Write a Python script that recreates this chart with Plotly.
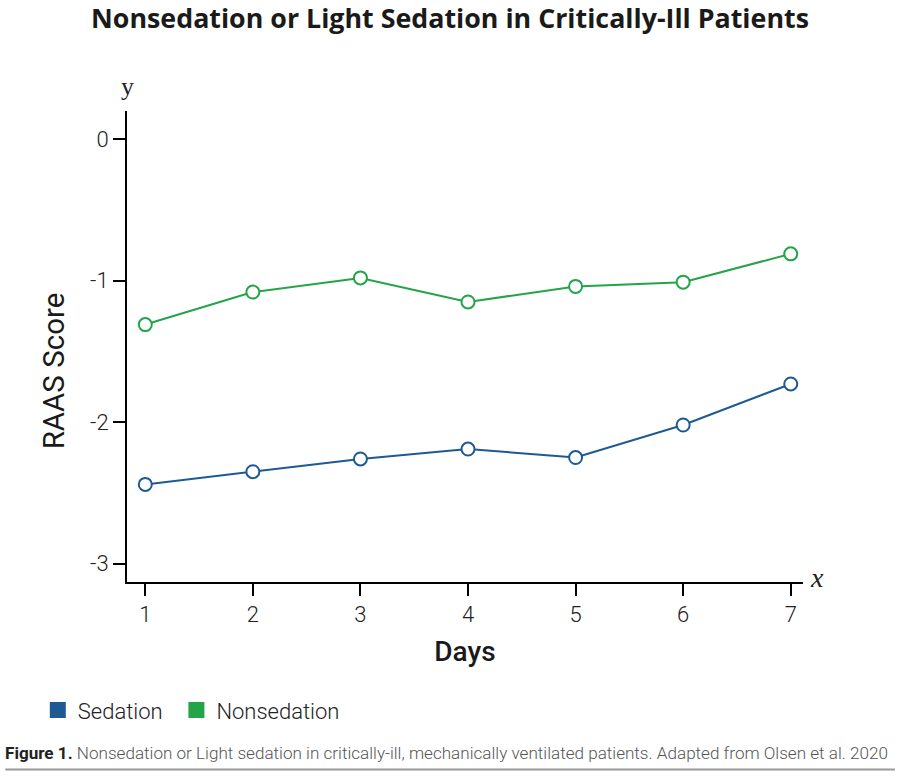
import plotly.graph_objects as go

days = [1, 2, 3, 4, 5, 6, 7]
sedation = [-2.44, -2.35, -2.26, -2.19, -2.25, -2.02, -1.73]
nonsedation = [-1.31, -1.08, -0.98, -1.15, -1.04, -1.01, -0.81]
y_ticks = [0, -1, -2, -3]
y_tick_labels = ["0", "-1", "-2", "-3"]
x_tick_labels = ["1", "2", "3", "4", "5", "6", "7"]

BLUE = "#1d5a93"
GREEN = "#24a448"

fig = go.Figure()
for name, vals, col, lg in [("Sedation", sedation, BLUE, "legend"),
                            ("Nonsedation", nonsedation, GREEN, "legend2")]:
    fig.add_trace(go.Scatter(
        x=days, y=vals, mode="lines+markers", name=name, showlegend=False,
        line=dict(color=col, width=2),
        marker=dict(symbol="circle", size=13, color="white", line=dict(color=col, width=2)),
        cliponaxis=False,
    ))
    fig.add_trace(go.Scatter(
        x=[None], y=[None], mode="markers", name=name, showlegend=True, legend=lg,
        marker=dict(symbol="square", size=16, color=col),
    ))

tick_font = dict(family="Roboto", size=22, color="#222", weight=300)
legend_font = dict(family="Roboto", size=22, color="#222", weight=300)

fig.update_layout(
    width=900, height=783,
    paper_bgcolor="white", plot_bgcolor="white",
    margin=dict(l=127, r=97, t=111, b=201),
    title=dict(text="<b>Nonsedation or Light Sedation in Critically-Ill Patients</b>",
               x=0.5, xanchor="center", y=0.976, yanchor="middle",
               font=dict(family="Open Sans", size=26.8, color="#1a1a1a")),
    xaxis=dict(range=[0.83, 7.114], tickvals=days, ticktext=x_tick_labels,
               showgrid=False, zeroline=False, showline=True, linecolor="black", linewidth=2,
               ticks="outside", ticklen=12, tickwidth=2, tickcolor="black",
               tickfont=tick_font,
               title=dict(text="Days", standoff=15,
                          font=dict(family="Roboto", size=28, color="#1a1a1a", weight=500))),
    yaxis=dict(range=[-3.13, 0.2], tickvals=y_ticks, ticktext=y_tick_labels,
               showgrid=False, zeroline=False, showline=True, linecolor="black", linewidth=2,
               ticks="outside", ticklen=12, tickwidth=2, tickcolor="black",
               tickfont=tick_font),
    legend=dict(orientation="h", x=0.042, xanchor="left", xref="container",
                y=0.093, yanchor="middle", yref="container",
                font=legend_font, itemwidth=30, bgcolor="rgba(0,0,0,0)"),
    legend2=dict(orientation="h", x=0.196, xanchor="left", xref="container",
                 y=0.093, yanchor="middle", yref="container",
                 font=legend_font, itemwidth=30, bgcolor="rgba(0,0,0,0)"),
    annotations=[
        dict(text="RAAS Score", xref="paper", yref="paper", x=-0.1075, y=0.448,
             textangle=-90, showarrow=False, xanchor="center", yanchor="middle",
             font=dict(family="Roboto", size=29.5, color="#1a1a1a", weight=400)),
        dict(text="y", xref="paper", yref="paper", x=0.0, y=1.0, yshift=25, showarrow=False,
             xanchor="center", yanchor="middle",
             font=dict(family="Liberation Serif", size=26, color="#222")),
        dict(text="<i>x</i>", xref="paper", yref="paper", x=1.0, xshift=14, y=0.0, yshift=5,
             showarrow=False, xanchor="center", yanchor="middle",
             font=dict(family="Liberation Serif", size=28, color="#222")),
        dict(text="<b>Figure 1.</b> <span style='color:#555'>Nonsedation or Light sedation in critically-ill, mechanically ventilated patients. Adapted from Olsen et al. 2020</span>",
             xref="paper", yref="paper", x=-0.183, y=-0.364, showarrow=False,
             xanchor="left", yanchor="middle",
             font=dict(family="Roboto", size=17.1, color="#222", weight=300)),
    ],
    shapes=[
        dict(type="line", xref="paper", yref="paper", x0=-0.18, x1=1.136, y0=-0.398, y1=-0.398,
             line=dict(color="#999", width=2)),
    ],
)

fig.write_html("out.html", config={"displayModeBar": False},
               post_script="document.body.style.margin='0';")
